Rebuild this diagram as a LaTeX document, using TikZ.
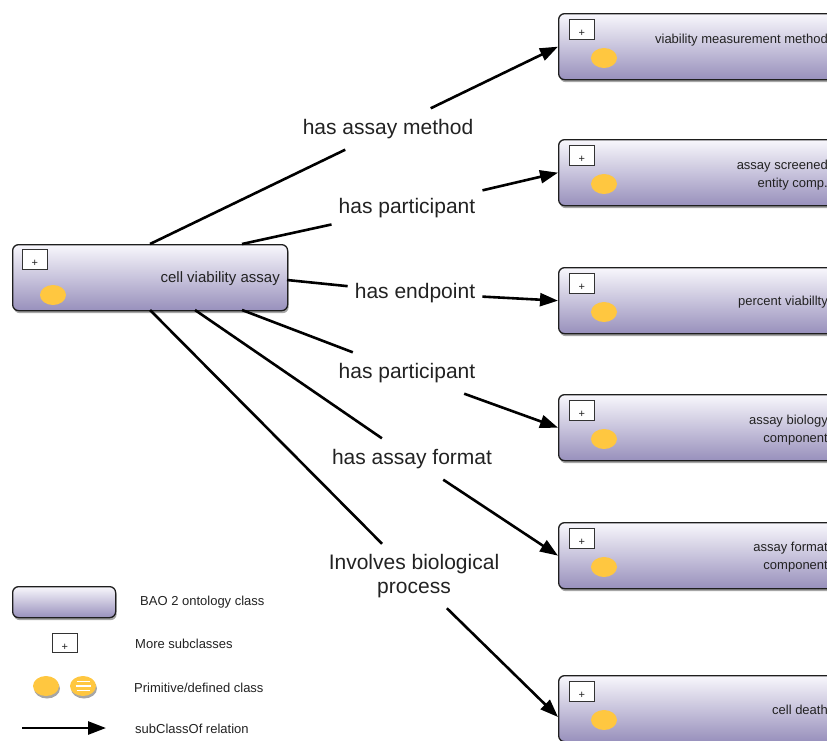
\documentclass[tikz,border=0pt]{standalone}
\usepackage{fontspec}
\setmainfont{Liberation Sans}
\usetikzlibrary{arrows.meta,shadows,shapes.geometric,calc}

\definecolor{boxtop}{RGB}{248,247,252}
\definecolor{boxbot}{RGB}{152,144,188}
\definecolor{boxline}{RGB}{30,30,30}
\definecolor{primfill}{RGB}{255,199,64}
\definecolor{inktext}{RGB}{34,34,34}

\tikzset{
  classbox/.style={draw=boxline, line width=1.3pt, rounded corners=6pt,
    top color=boxtop, bottom color=boxbot, minimum height=66pt,
    inner sep=0pt, anchor=north west,
    drop shadow={shadow xshift=1pt, shadow yshift=-2.5pt, opacity=0.35, fill=black}},
  plusbox/.style={draw=black!80, line width=0.8pt, fill=white,
    minimum width=25pt, minimum height=20pt, inner sep=0pt, anchor=north west},
  plussign/.style={font=\fontsize{11}{11}\selectfont, inner sep=0pt, text=inktext},
  prim/.style={ellipse, fill=primfill, minimum width=26pt, minimum height=20pt, inner sep=0pt},
  primshadow/.style={drop shadow={shadow xshift=1pt, shadow yshift=-2.5pt, opacity=0.35, fill=black}},
  classtext/.style={font=\fontsize{13}{18}\selectfont, align=right, anchor=east,
    inner sep=0pt, text=inktext},
  rellabel/.style={font=\fontsize{21}{24}\selectfont, inner xsep=7pt, inner ysep=0pt,
    minimum height=41pt, align=center, text=inktext},
  conn/.style={line width=2.6pt, black},
  rel/.style={conn, -{Triangle[length=18pt, width=13pt]}},
  legendtext/.style={font=\fontsize{13}{16}\selectfont, anchor=west, inner sep=0pt, text=inktext},
}

\begin{document}
\begin{tikzpicture}[x=1pt, y=-1pt]
\useasboundingbox (0,0) rectangle (827,740);
\clip (0,0) rectangle (827,740);

% central class
\node[classbox, minimum width=275pt] (cva) at (12,244) {};
\node[plusbox] (cvap) at (22,249) {};
\node[plussign] (cvaps) at ($(cvap.center)+(0,4)$) {+};
\node[prim] (cvae) at (53,295) {};
\node[classtext, font=\fontsize{15}{18}\selectfont] (cvat) at (280,279) {cell viability assay};

% related classes on the right
\foreach \n/\t in {1/13, 2/139, 3/267, 4/394, 5/522, 6/675} {
  \node[classbox, minimum width=302pt] (b\n) at (558,\t) {};
  \node[plusbox] (b\n p) at (569,\t+6) {};
  \node[plussign] (b\n ps) at ($(b\n p.center)+(0,4)$) {+};
  \node[prim] (b\n e) at (604,\t+45) {};
}
\node[classtext] (b1t) at (828,40) {viability measurement method};
\node[classtext] (b2t) at (828,175) {assay screened\\entity comp.};
\node[classtext] (b3t) at (828,302) {percent viabillty};
\node[classtext] (b4t) at (828,430) {assay biology\\component};
\node[classtext] (b5t) at (828,557) {assay format\\component};
\node[classtext] (b6t) at (828,710) {cell death};

% relation labels
\node[rellabel] (l1) at (388,129) {has assay method};
\node[rellabel] (l2) at (407,208) {has participant};
\node[rellabel] (l3) at (415,293) {has endpoint};
\node[rellabel] (l4) at (407,373) {has participant};
\node[rellabel] (l5) at (412,459) {has assay format};
\node[rellabel, minimum height=64pt] (l6) at (414,576) {Involves biological\\process};

% connector start points on the central class
\coordinate (s1) at (150,244);
\coordinate (s2) at (242,244);
\coordinate (s3) at (287,280);
\coordinate (s4) at (242,310);
\coordinate (s5) at (195,310);
\coordinate (s6) at (150,310);
\coordinate (t6) at (558,717);

\draw[conn] (s1) -- (l1);  \draw[rel] (l1) -- (b1.west);
\draw[conn] (s2) -- (l2);  \draw[rel] (l2) -- (b2.west);
\draw[conn] (s3) -- (l3);  \draw[rel] (l3) -- (b3.west);
\draw[conn] (s4) -- (l4);  \draw[rel] (l4) -- (b4.west);
\draw[conn] (s5) -- (l5);  \draw[rel] (l5) -- (b5.west);
\draw[conn] (s6) -- (l6);  \draw[rel] (l6) -- (t6);

% legend
\node[classbox, minimum width=103pt, minimum height=31pt] (lgbox) at (12,586) {};
\node[legendtext] (lgboxt) at (140,602) {BAO 2 ontology class};
\node[plusbox, minimum height=19pt] (lgplus) at (52,633) {};
\node[plussign] (lgpluss) at ($(lgplus.center)+(0,4)$) {+};
\node[legendtext] (lgplust) at (135,644) {More subclasses};
\node[prim, primshadow] (lgprim) at (46,686) {};
\node[prim, primshadow] (lgdef) at (83,686) {};
\draw[white, line width=1.2pt]
  ($(lgdef.center)+(-6.5,-4.5)$) -- ++(13,0)
  ($(lgdef.center)+(-7.5,0)$) -- ++(15,0)
  ($(lgdef.center)+(-6.5,4.5)$) -- ++(13,0);
\node[legendtext] (lgprimt) at (134,688) {Primitive/defined class};
\coordinate (lga) at (22,728);
\coordinate (lgb) at (106,728);
\draw[rel] (lga) -- (lgb);
\node[legendtext] (lgrelt) at (135,729) {subClassOf relation};
\end{tikzpicture}
\end{document}
